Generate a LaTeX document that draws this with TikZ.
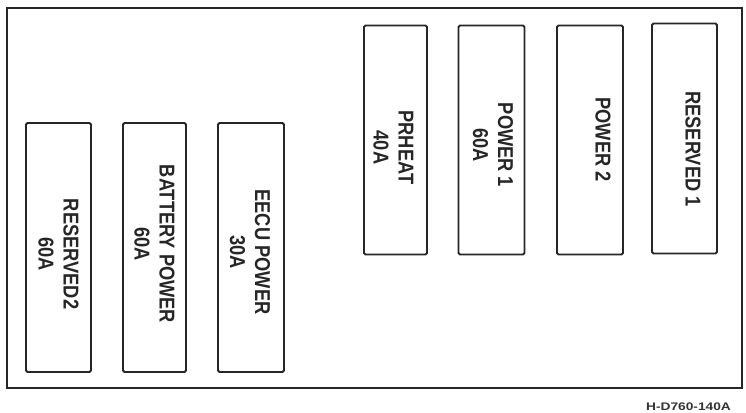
\documentclass[tikz,border=0pt]{standalone}
\usepackage{fontspec}
\setmainfont{Liberation Sans}
\begin{document}
\begin{tikzpicture}[x=1pt,y=-1pt,
  fuse/.style={draw=black!85,line width=1.8pt,rounded corners=1.5pt,inner sep=0pt},
  lbl/.style={rotate=-90,xscale=0.85,align=center,font=\bfseries\fontsize{21.5}{25}\selectfont,text=black!85},
]
\useasboundingbox (0,0) rectangle (746,412);
\node[draw=black!85,line width=2pt,minimum width=735pt,minimum height=380pt,inner sep=0pt] (box) at (374.5,198) {};
% bottom row
\node[fuse,minimum width=65pt,minimum height=249pt] (f1) at (58.5,247.5) {};
\node[fuse,minimum width=63pt,minimum height=249pt] (f2) at (154.5,247.5) {};
\node[fuse,minimum width=66pt,minimum height=249pt] (f3) at (251,247.5) {};
% top row
\node[fuse,minimum width=63pt,minimum height=229pt] (f4) at (395.5,140) {};
\node[fuse,minimum width=66pt,minimum height=229pt] (f5) at (491.5,140) {};
\node[fuse,minimum width=66pt,minimum height=229pt] (f6) at (590,140) {};
\node[fuse,minimum width=65pt,minimum height=230pt] (f7) at (684.5,138.5) {};
% labels
\node[lbl] (t1) at (58.5,254) {RESERVED2\\60A};
\node[lbl] (t2) at (154.5,244) {BATTERY POWER\\60A};
\node[lbl] (t3) at (250,252) {EECU POWER\\30A};
\node[lbl] (t4) at (393.5,147.5) {PRHEAT\\40A};
\node[lbl] (t5) at (493,145) {POWER 1\\60A};
\node[lbl] (t6) at (603,139.5) {POWER 2};
\node[lbl] (t7) at (693,149) {RESERVED 1};
\node[font=\bfseries\fontsize{11}{13}\selectfont,xscale=1.25,text=black!80] (code) at (688.5,406.5) {H-D760-140A};
\end{tikzpicture}
\end{document}
